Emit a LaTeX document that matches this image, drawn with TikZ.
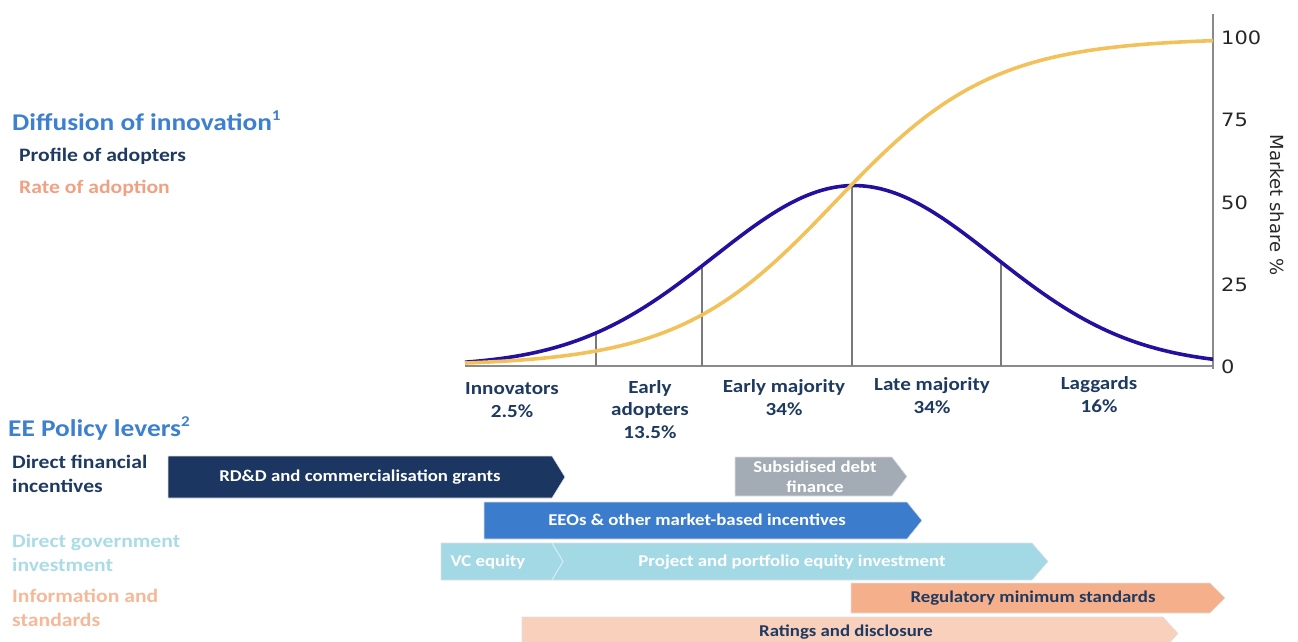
\documentclass[tikz,border=0pt]{standalone}
\usepackage{fontspec}
\setmainfont{Carlito}[FakeStretch=1.14]
\newfontfamily\axisfont{DejaVu Sans}[FakeStretch=1.14]
\newfontfamily\axistitlefont{DejaVu Sans}

\definecolor{headblue}{HTML}{3D80CF}
\definecolor{navytext}{HTML}{1F3A60}
\definecolor{salmontext}{HTML}{F2A082}
\definecolor{tealtext}{HTML}{A9DCE6}
\definecolor{peachtext}{HTML}{F5B898}
\definecolor{bellblue}{HTML}{24109E}
\definecolor{rategold}{HTML}{F2C15A}
\definecolor{gridgray}{HTML}{7A7A7A}
\definecolor{axisgray}{HTML}{8A8A8A}
\definecolor{barnavy}{HTML}{1B3660}
\definecolor{bargray}{HTML}{A3ACB4}
\definecolor{barblue}{HTML}{3B7DCC}
\definecolor{barteal}{HTML}{A3D9E5}
\definecolor{barsalmon}{HTML}{F5AF8B}
\definecolor{barpeach}{HTML}{F9D0BC}

\newcommand\fsz[2]{\fontsize{#1}{#2}\selectfont}
% pentagon arrow bar: fill, left x, body end x, tip x, top y, bottom y
\newcommand\leverbar[6]{%
  \filldraw[fill=#1, draw=black!12, line width=0.6pt]
    (#2,#5) -- (#3,#5) -- (#4,{(#5+#6)/2}) -- (#3,#6) -- (#2,#6) -- cycle;}

\tikzset{
  heading/.style={anchor=base west, inner sep=0pt, text=headblue,
    font=\bfseries\fsz{24}{28}},
  legend/.style={anchor=base west, inner sep=0pt, font=\bfseries\fsz{19}{23.5},
    align=left},
  phase/.style={anchor=base, inner sep=0pt, text=navytext, align=center,
    font=\bfseries\fsz{18.5}{22.5}},
  tick/.style={anchor=west, inner sep=0pt, text=black!85, font=\axisfont\fsz{18.4}{22}},
  bartext/.style={inner sep=0pt, align=center, font=\bfseries\fsz{16.5}{20}},
  bell/.style={bellblue, line width=3.6pt},
  rate/.style={rategold, line width=3.6pt},
  divider/.style={gridgray, line width=1.1pt},
  axis/.style={axisgray, line width=1.3pt},
  declare function={
    bellv(\x)=366-180.4*exp(-0.5*((\x-854)/140)*((\x-854)/140));
    ratev(\x)=366-328/(1+exp(-1.702*(\x-835)/134));
  }
}

\begin{document}
\begin{tikzpicture}[x=1pt,y=-1pt]
\useasboundingbox (0,0) rectangle (1298,642);

% ---- headings and legend ----
\node[heading] (diffhead) at (12,130) {Diffusion of innovation\textsuperscript{\fsz{15}{15}1}};
\node[legend, text=navytext] (profile) at (19,161) {Profile of adopters};
\node[legend, text=salmontext] (ratelbl) at (19,193) {Rate of adoption};

% ---- chart axes ----
\coordinate (axO) at (465,366);
\coordinate (axR) at (1213,366);
\coordinate (axT) at (1213,14);
\coordinate (axB) at (1213,369);
\draw[axis] (axO) -- (axR);
\draw[axis] (axB) -- (axT);

\node[tick] (t100) at (1221,38) {100};
\node[tick] (t75) at (1221,120) {75};
\node[tick] (t50) at (1221,203) {50};
\node[tick] (t25) at (1221,285) {25};
\node[tick] (t0) at (1221,367) {0};
\node[rotate=-90, inner sep=0pt, text=black!85, font=\axistitlefont\fsz{18}{22}]
  (ytitle) at (1277,205) {Market share \%};

% ---- adopter category dividers ----
\foreach \d in {596,702,852,1001}
  \draw[divider] (\d,366) -- (\d,{bellv(\d)});

% ---- curves ----
\draw[bell] plot[domain=465:1213, samples=160, smooth] (\x,{bellv(\x)});
\draw[rate] plot[domain=465:1213, samples=160, smooth] (\x,{ratev(\x)});

% ---- adopter categories (anchored at the last line's baseline) ----
\node[phase] (innov) at (512,417) {Innovators\\2.5\%};
\node[phase] (early) at (650,438) {Early\\adopters\\13.5\%};
\node[phase] (emaj) at (784,415) {Early majority\\34\%};
\node[phase] (lmaj) at (932,413) {Late majority\\34\%};
\node[phase] (lagg) at (1099,412) {Laggards\\16\%};

% ---- policy levers ----
\node[heading] (levhead) at (8,436) {EE Policy levers\textsuperscript{\fsz{15}{15}2}};
\node[legend, text=navytext] (dfi) at (12,492) {Direct financial\\incentives};
\node[legend, text=tealtext] (dgi) at (12,571) {Direct government\\investment};
\node[legend, text=peachtext] (ias) at (12,626) {Information and\\standards};

\leverbar{barnavy}{168}{552}{565}{456}{498}
\node[bartext, text=white] (rdd) at (360,477) {RD\&D and commercialisation grants};

\leverbar{bargray}{735}{892}{907}{457}{496}
\node[bartext, text=white, font=\bfseries\fsz{16.5}{20.5}] (debt) at (815,477) {Subsidised debt\\finance};

\leverbar{barblue}{484}{907}{922}{502}{539}
\node[bartext, text=white] (eeo) at (697,520) {EEOs \& other market-based incentives};

\leverbar{barteal}{441}{1032}{1048}{543}{580}
\draw[white!55!barteal, line width=1pt] (552,543) -- (563,561.5) -- (552,580);
\node[bartext, text=white] (vc) at (488,562) {VC equity};
\node[bartext, text=white] (proj) at (792,562) {Project and portfolio equity investment};

\leverbar{barsalmon}{851}{1210}{1225}{583}{613}
\node[bartext, text=navytext] (reg) at (1033,598) {Regulatory minimum standards};

\begin{scope}
  \clip (0,0) rectangle (1298,642);
  \leverbar{barpeach}{522}{1163}{1178}{617}{650}
\end{scope}
\node[bartext, text=navytext] (rat) at (846,632) {Ratings and disclosure};

\end{tikzpicture}
\end{document}
